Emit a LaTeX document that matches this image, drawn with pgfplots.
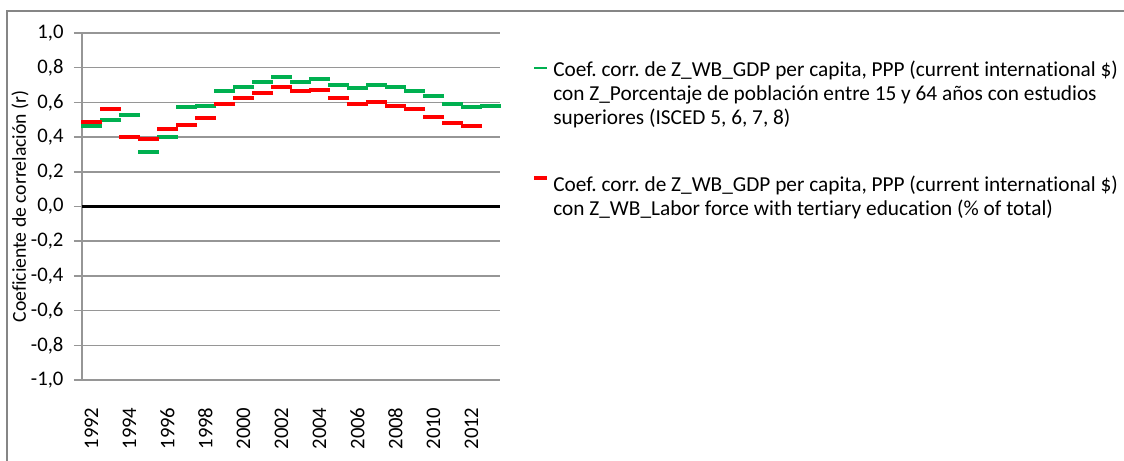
\documentclass[border=0pt]{standalone}
\usepackage{pgfplots}
\pgfplotsset{compat=1.18}
\usepackage{fontspec}
\setmainfont{Carlito}[Ligatures={NoCommon,NoRequired,NoContextual}]
\frenchspacing
\definecolor{xlgreen}{RGB}{0,176,80}
\definecolor{xlred}{RGB}{255,0,0}
\definecolor{gridgray}{RGB}{150,150,150}
\definecolor{framegray}{RGB}{134,134,134}
\newcommand{\cf}{\fontsize{20.7bp}{23.7bp}\selectfont}
\newcommand{\gf}{\fontsize{21.3bp}{23.7bp}\selectfont}
\newcommand{\lf}{\fontsize{19.7bp}{23.7bp}\selectfont}

\pgfplotstableread{
x y
0 0.466
1 0.500
2 0.529
3 0.316
4 0.402
5 0.575
6 0.580
7 0.667
8 0.690
9 0.718
10 0.747
11 0.718
12 0.736
13 0.701
14 0.684
15 0.701
16 0.690
17 0.667
18 0.638
19 0.592
20 0.575
21 0.580
}\greendata

\pgfplotstableread{
x y
0 0.489
1 0.563
2 0.402
3 0.391
4 0.448
5 0.471
6 0.511
7 0.592
8 0.626
9 0.655
10 0.690
11 0.667
12 0.672
13 0.626
14 0.592
15 0.600
16 0.580
17 0.563
18 0.517
19 0.483
20 0.466
}\reddata

\begin{document}
\begin{tikzpicture}
\useasboundingbox (0,0) rectangle (1124bp,461bp);
\draw[framegray, line width=1.3bp] (7bp,-5bp) -- (7bp,450bp) -- (1130bp,450bp);
\begin{axis}[
  at={(82bp,81bp)}, anchor=south west,
  scale only axis, width=418bp, height=347bp,
  xmin=-0.5, xmax=21.5, ymin=-1, ymax=1,
  xtick={0,2,...,20},
  xticklabels={1992,1994,1996,1998,2000,2002,2004,2006,2008,2010,2012},
  ytick={-1,-0.8,-0.6,-0.4,-0.2,0,0.2,0.4,0.6,0.8,1},
  yticklabels={{-1,0},{-0,8},{-0,6},{-0,4},{-0,2},{0,0},{0,2},{0,4},{0,6},{0,8},{1,0}},
  ymajorgrids, grid style={gridgray, line width=1.5bp},
  axis x line*=bottom, axis y line*=left,
  axis line style={-},
  x axis line style={draw=none},
  y axis line style={gridgray, line width=1.5bp},
  tick align=outside, major tick length=8bp,
  ytick style={gridgray, line width=1.5bp},
  xtick style={draw=none},
  xticklabel style={rotate=90, anchor=east, font=\cf},
  yticklabel style={anchor=east, font=\cf},
  xticklabel shift=16bp,
  yticklabel shift=7bp,
  ylabel={Coeficiente de correlación (r)},
  ylabel style={at={(axis description cs:-0.148,0.5)}, anchor=center, font=\lf},
  legend cell align=left,
  legend style={at={(axis description cs:1.0766,0.9187)}, anchor=north west,
    draw=none, fill=none, inner sep=0pt, font=\gf, row sep=50bp,
    cells={align=left}, nodes={inner sep=0pt}},
  clip=false,
]
\draw[black, line width=3bp] (axis cs:-0.5,0) -- (axis cs:21.5,0);
\addplot[only marks, mark=-, mark size=10.5bp, color=xlgreen,
  mark options={line width=4bp, solid},
  legend image code/.code={\draw[xlgreen, line width=2bp] (0bp,25.5bp) -- (12.5bp,25.5bp); \path (18.7bp,0bp);}]
  table[x=x, y=y] {\greendata};
\addlegendentry{Coef. corr. de Z\_WB\_GDP per capita, PPP (current international \$)\\con Z\_Porcentaje de población entre 15 y 64 años con estudios\\superiores (ISCED 5, 6, 7, 8)}
\addplot[only marks, mark=-, mark size=10.5bp, color=xlred,
  mark options={line width=4bp, solid},
  legend image code/.code={\draw[xlred, line width=4.5bp] (0bp,18.5bp) -- (12.5bp,18.5bp); \path (18.7bp,0bp);}]
  table[x=x, y=y] {\reddata};
\addlegendentry{Coef. corr. de Z\_WB\_GDP per capita, PPP (current international \$)\\con Z\_WB\_Labor force with tertiary education (\% of total)}
\end{axis}
\end{tikzpicture}
\end{document}
